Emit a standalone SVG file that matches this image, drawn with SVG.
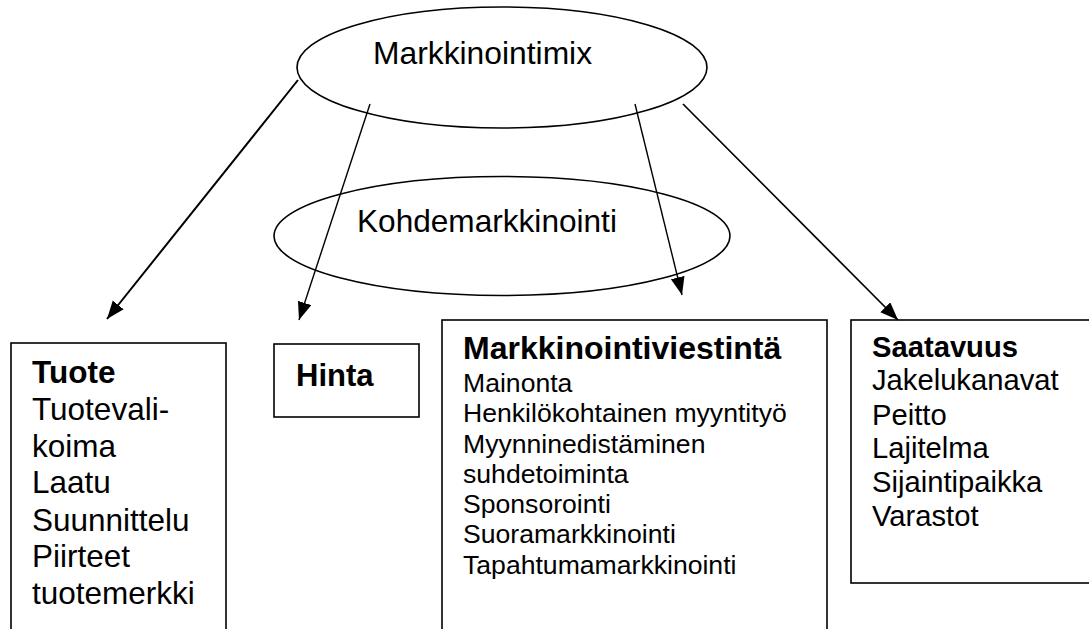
<svg xmlns="http://www.w3.org/2000/svg" width="1089" height="629" viewBox="0 0 1089 629">
<style>
.shape{fill:#fff;stroke:#000;stroke-width:1.6}
.t{font-family:"Liberation Sans",Arial,sans-serif;fill:#000}
.b{font-weight:bold}
.conn line{stroke:#000;fill:none}
</style>
<defs>
<marker id="ah" markerUnits="userSpaceOnUse" markerWidth="20" markerHeight="16" refX="18" refY="7" orient="auto">
<path d="M0,0 L18,7 L0,14 z" fill="#000"/>
</marker>
</defs>
<rect width="1089" height="629" fill="#fff"/>
<g id="markkinointimix">
<ellipse class="shape" cx="502" cy="67.5" rx="205" ry="60.5"/>
<text class="t" x="373" y="64" font-size="31.8">Markkinointimix</text>
</g>
<g id="kohdemarkkinointi">
<ellipse class="shape" cx="502" cy="236" rx="228" ry="59.5"/>
<text class="t" x="357" y="232" font-size="31.6">Kohdemarkkinointi</text>
</g>
<g id="tuote">
<rect class="shape" x="11" y="343" width="215" height="300"/>
<text class="t" font-size="31.5"><tspan class="b" x="32" y="383">Tuote</tspan><tspan x="32" y="420">Tuotevali-</tspan><tspan x="32" y="457">koima</tspan><tspan x="32" y="493">Laatu</tspan><tspan x="32" y="531">Suunnittelu</tspan><tspan x="32" y="567">Piirteet</tspan><tspan x="32" y="604">tuotemerkki</tspan></text>
</g>
<g id="hinta">
<rect class="shape" x="274" y="344" width="145" height="73"/>
<text class="t b" x="296" y="386" font-size="31">Hinta</text>
</g>
<g id="markkinointiviestinta">
<rect class="shape" x="442" y="320" width="385" height="330"/>
<text class="t b" x="463" y="358.5" font-size="32">Markkinointiviestintä</text>
<text class="t" font-size="26.6"><tspan x="463" y="392">Mainonta</tspan><tspan x="463" y="422">Henkilökohtainen myyntityö</tspan><tspan x="463" y="453">Myynninedistäminen</tspan><tspan x="463" y="483">suhdetoiminta</tspan><tspan x="463" y="513">Sponsorointi</tspan><tspan x="463" y="543">Suoramarkkinointi</tspan><tspan x="463" y="574">Tapahtumamarkkinointi</tspan></text>
</g>
<g id="saatavuus">
<rect class="shape" x="851" y="320" width="250" height="263"/>
<text class="t" font-size="29.2"><tspan class="b" x="872" y="357">Saatavuus</tspan><tspan x="872" y="390">Jakelukanavat</tspan><tspan x="872" y="425">Peitto</tspan><tspan x="872" y="458">Lajitelma</tspan><tspan x="872" y="492">Sijaintipaikka</tspan><tspan x="872" y="526">Varastot</tspan></text>
</g>
<g id="connectors" class="conn">
<line x1="298" y1="80" x2="107" y2="319" stroke-width="2" marker-end="url(#ah)"/>
<line x1="370" y1="104" x2="299" y2="320" stroke-width="1.4" marker-end="url(#ah)"/>
<line x1="635" y1="104" x2="682" y2="295" stroke-width="1.4" marker-end="url(#ah)"/>
<line x1="683" y1="104" x2="898" y2="320" stroke-width="1.7" marker-end="url(#ah)"/>
</g>
</svg>
